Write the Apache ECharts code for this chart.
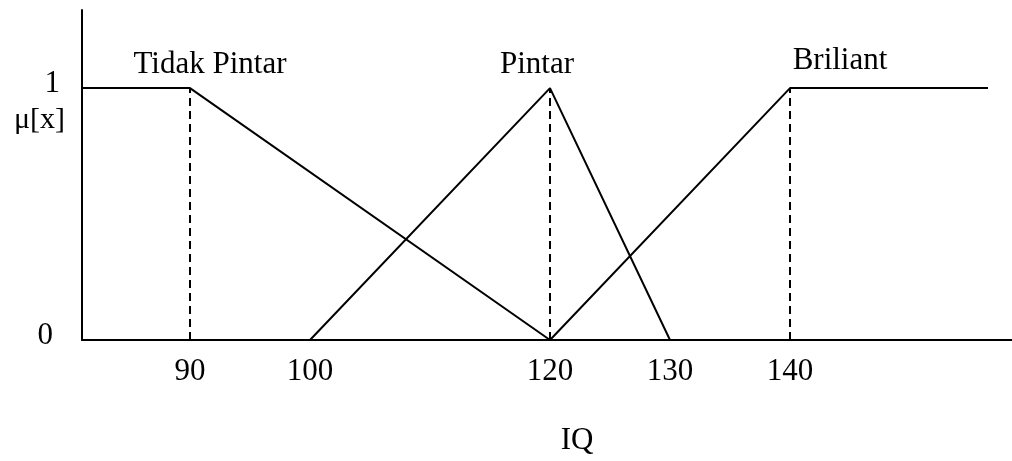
<!DOCTYPE html>
<html>
	<head>
		<meta charset="utf-8" />
		<title>Fungsi keanggotaan IQ</title>
		<style type="text/css">
			html, body { margin: 0; padding: 0; background: #fff; }
			#main { width: 1012px; height: 461px; }
		</style>
		<script src="https://cdn.jsdelivr.net/npm/echarts@6/dist/echarts.min.js" type="text/javascript" charset="utf-8"></script>
	</head>
	<body>
		<div id="main"></div>
		<script type="text/javascript">
			// titik-titik fungsi keanggotaan (IQ, mu)
			var tidakPintarX = [81, 90, 120];
			var tidakPintarY = [1, 1, 0];
			var pintarX = [100, 120, 130];
			var pintarY = [0, 1, 0];
			var briliantX = [120, 140, 156.5];
			var briliantY = [0, 1, 1];
			var garisPutus = [90, 120, 140];   // garis putus-putus
			var xTicks = [90, 100, 120, 130, 140];
			var yTicks = [0, 1];

			var serif = "'Liberation Serif', 'Times New Roman', serif";

			function pairs(xs, ys) {
				return xs.map(function (x, i) { return [x, ys[i]]; });
			}

			function curve(name, xs, ys, labelIdx, offset) {
				return {
					name: name,
					type: 'line',
					data: pairs(xs, ys),
					symbol: 'circle',
					symbolSize: 0,
					showSymbol: true,
					silent: true,
					lineStyle: { color: '#000', width: 2 },
					itemStyle: { color: '#000' },
					label: {
						show: true,
						position: 'top',
						distance: 8,
						offset: offset,
						fontFamily: serif,
						fontSize: 31,
						color: '#000',
						formatter: function (p) { return p.dataIndex === labelIdx ? name : ''; }
					}
				};
			}

			var series = [
				curve('Tidak Pintar', tidakPintarX, tidakPintarY, 1, [20, 0]),
				curve('Pintar', pintarX, pintarY, 1, [-13, 0]),
				curve('Briliant', briliantX, briliantY, 1, [50, -4])
			];
			garisPutus.forEach(function (x) {
				series.push({
					type: 'line',
					data: [[x, 0], [x, 1]],
					symbol: 'none',
					silent: true,
					lineStyle: { color: '#000', width: 2, type: [8, 5] }
				});
			});

			var myChart = echarts.init(document.getElementById('main'));
			var option = {
				backgroundColor: '#fff',
				animation: false,
				title: {
					text: 'μ[x]',
					left: 9,
					top: 100,
					textStyle: { fontFamily: serif, fontSize: 30, fontWeight: 'normal', color: '#000' }
				},
				grid: { left: 82, right: 0, top: 10, bottom: 120 },
				xAxis: {
					type: 'value',
					min: 81,
					max: 158.5,
					name: 'IQ',
					nameLocation: 'middle',
					nameGap: 85,
					nameTextStyle: { fontFamily: serif, fontSize: 31, color: '#000', padding: [0, 0, 0, 60] },
					axisLine: { show: true, onZero: false, lineStyle: { color: '#000', width: 2 } },
					axisTick: { show: false },
					splitLine: { show: false },
					axisLabel: {
						customValues: xTicks,
						margin: 16,
						fontFamily: serif,
						fontSize: 31,
						color: '#000'
					}
				},
				yAxis: {
					type: 'value',
					min: 0,
					max: 1.31,
					axisLine: { show: true, onZero: false, lineStyle: { color: '#000', width: 2 } },
					axisTick: { show: false },
					splitLine: { show: false },
					axisLabel: {
						customValues: yTicks,
						margin: 22,
						fontFamily: serif,
						fontSize: 31,
						color: '#000',
						padding: [0, 0, 8, 0],
						formatter: function (v) { return v === 0 ? '{z|0}' : '' + v; },
						rich: {
							z: { fontFamily: serif, fontSize: 31, color: '#000', padding: [0, 7, 0, 0] }
						}
					}
				},
				series: series
			};
			myChart.setOption(option);
		</script>
	</body>
</html>
